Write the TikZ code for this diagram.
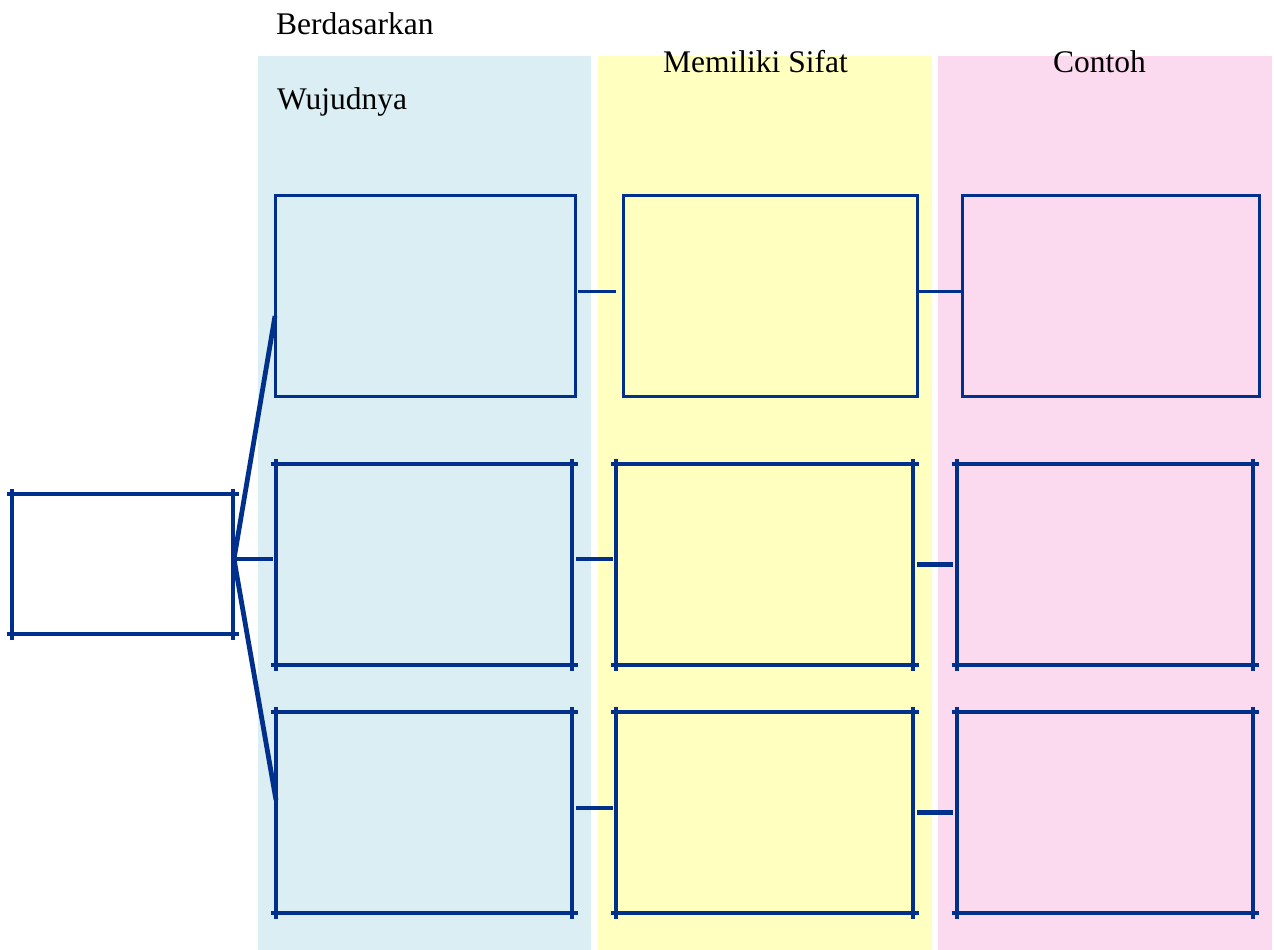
\documentclass[tikz,border=0pt]{standalone}
\usepackage{fontspec}
\setmainfont{Liberation Serif}
\usetikzlibrary{calc}
\definecolor{navy}{RGB}{0,48,140}
\definecolor{colblue}{RGB}{218,238,244}
\definecolor{colyellow}{RGB}{255,255,192}
\definecolor{colpink}{RGB}{251,217,238}
\begin{document}
\begin{tikzpicture}[x=1pt,y=-1pt,
  label/.style={anchor=base west,inner sep=0,font=\fontsize{31.5}{37}\selectfont},
  thinbox/.style={draw=navy,line width=3pt,rectangle,inner sep=0,outer sep=0,minimum height=201pt},
  thickbox/.style={rectangle,inner sep=0,outer sep=0,minimum height=201pt},
  edge/.style={draw=navy,line width=4.8pt,shorten <=-5.5pt,shorten >=-5.5pt},
  thinlink/.style={draw=navy,line width=3pt},
  thicklink/.style={draw=navy,line width=4.8pt}]
\useasboundingbox (0,0) rectangle (1274,950);
% column backgrounds
\fill[colblue] (258,56) rectangle (591,950);
\fill[colyellow] (598,56) rectangle (932,950);
\fill[colpink] (938,56) rectangle (1272,950);
% labels
\node[label] (t1) at (276,35) {Berdasarkan};
\node[label] (t2) at (277,110) {Wujudnya};
\node[label] (t3) at (663,72) {Memiliki Sifat};
\node[label] (t4) at (1053,72) {Contoh};
% top row
\node[thinbox,minimum width=300pt] (a1) at (425,295.5) {};
\node[thinbox,minimum width=294pt] (b1) at (770,295.5) {};
\node[thinbox,minimum width=297pt] (c1) at (1110.5,295.5) {};
% middle row
\node[thickbox,minimum width=296pt] (a2) at (424,564.5) {};
\node[thickbox,minimum width=297pt] (b2) at (764.5,564.5) {};
\node[thickbox,minimum width=296pt] (c2) at (1105,564.5) {};
% bottom row
\node[thickbox,minimum width=296pt] (a3) at (424,812.5) {};
\node[thickbox,minimum width=297pt] (b3) at (764.5,812.5) {};
\node[thickbox,minimum width=296pt] (c3) at (1105,812.5) {};
% left box
\node[thickbox,minimum width=221pt,minimum height=140pt] (root) at (122.5,564) {};
\foreach \n in {a2,b2,c2,a3,b3,c3,root}{
  \draw[edge] (\n.north west) -- (\n.north east);
  \draw[edge] (\n.south west) -- (\n.south east);
  \draw[edge] (\n.north west) -- (\n.south west);
  \draw[edge] (\n.north east) -- (\n.south east);
}
% fan from root
\coordinate (apex) at ($(root.east)+(1,-5)$);
\coordinate (fa) at ($(a1.west)+(0,20.5)$);
\coordinate (fc) at ($(a3.west)+(0,-12.5)$);
\draw[thicklink] (apex) -- (fa);
\draw[thicklink] (apex) -- (fc);
\draw[thicklink] (apex) -- ($(a2.west)+(-3,-5.5)$);
% row connectors
\draw[thinlink] ($(a1.east)+(3,-4.5)$) -- ($(b1.west)+(-7,-4.5)$);
\draw[thinlink] ($(b1.east)+(0,-4.5)$) -- ($(c1.west)+(0,-4.5)$);
\draw[thicklink] ($(a2.east)+(4,-5.5)$) -- ($(b2.west)+(-3,-5.5)$);
\draw[thicklink] ($(b2.east)+(4,0)$) -- ($(c2.west)+(-4,0)$);
\draw[thicklink] ($(a3.east)+(4,-4.5)$) -- ($(b3.west)+(-3,-4.5)$);
\draw[thicklink] ($(b3.east)+(4,0)$) -- ($(c3.west)+(-4,0)$);
\end{tikzpicture}
\end{document}
